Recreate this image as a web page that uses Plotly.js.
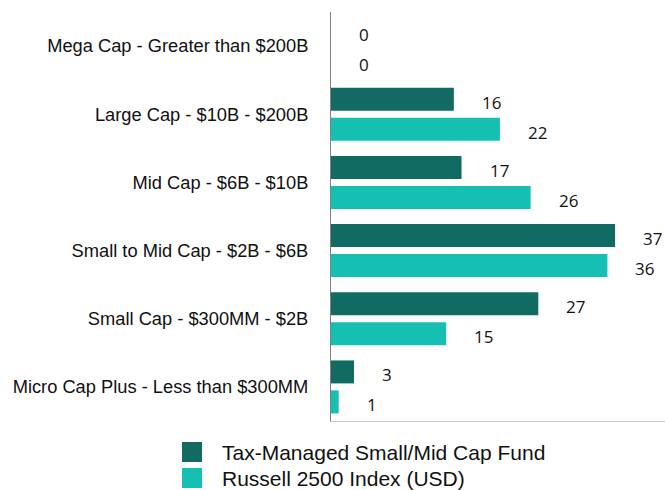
<!DOCTYPE html>
<html>
<head>
<meta charset="utf-8">
<script src="https://cdn.plot.ly/plotly-3.0.1.min.js"></script>
<style>html,body{margin:0;padding:0;background:#fff;}#chart{width:665px;height:490px;}</style>
</head>
<body>
<div id="chart"></div>
<script>
var categories = [
  "Mega Cap - Greater than $200B",
  "Large Cap - $10B - $200B",
  "Mid Cap - $6B - $10B",
  "Small to Mid Cap - $2B - $6B",
  "Small Cap - $300MM - $2B",
  "Micro Cap Plus - Less than $300MM"
];
var fundValues = [0, 16, 17, 37, 27, 3];
var indexValues = [0, 22, 26, 36, 15, 1];
var seriesNames = ["Tax-Managed Small/Mid Cap Fund", "Russell 2500 Index (USD)"];
var colors = ["#116B62", "#15BFB2"];

var traces = [
  {type: "bar", orientation: "h", name: seriesNames[0], x: fundValues, y: categories,
   marker: {color: colors[0]}, showlegend: false, hoverinfo: "x"},
  {type: "bar", orientation: "h", name: seriesNames[1], x: indexValues, y: categories,
   marker: {color: colors[1]}, showlegend: false, hoverinfo: "x"}
];

// plot-area geometry used to place the legend in paper coordinates
var M = {l: 331, r: 0, t: 12, b: 69};
var W = 665, H = 490;
var pw = W - M.l - M.r, ph = H - M.t - M.b;
function px2x(px) { return (px - M.l) / pw; }
function py2y(py) { return (H - M.b - py) / ph; }

var annotations = [];
var labelFont = {family: "Open Sans, Noto Sans, sans-serif", size: 17, color: "#111"};
categories.forEach(function (c, i) {
  annotations.push({x: fundValues[i], y: c, text: String(fundValues[i]), showarrow: false,
    xanchor: "left", yanchor: "middle", xshift: 26, yshift: 12, font: labelFont});
  annotations.push({x: indexValues[i], y: c, text: String(indexValues[i]), showarrow: false,
    xanchor: "left", yanchor: "middle", xshift: 26, yshift: -18, font: labelFont});
});

var shapes = [];
var legendFont = {family: "Arial, Liberation Sans, sans-serif", size: 21, color: "#111"};
seriesNames.forEach(function (n, i) {
  var top = 442 + i * 26;
  shapes.push({type: "rect", xref: "paper", yref: "paper",
    x0: px2x(182), x1: px2x(202), y0: py2y(top + 20), y1: py2y(top),
    fillcolor: colors[i], line: {width: 0}});
  annotations.push({xref: "paper", yref: "paper", x: px2x(220), y: py2y(top + 10),
    text: n, showarrow: false, xanchor: "left", yanchor: "middle", font: legendFont});
});

var layout = {
  width: W, height: H,
  margin: {l: M.l, r: M.r, t: M.t, b: M.b, autoexpand: false},
  paper_bgcolor: "#fff", plot_bgcolor: "#fff",
  barmode: "group", bargap: 0.12, bargroupgap: 0.233,
  showlegend: false,
  xaxis: {range: [0, 43.5], showgrid: false, zeroline: false, showticklabels: false,
    ticks: "", showline: true, linecolor: "#c8c8c8", linewidth: 1, fixedrange: true},
  yaxis: {type: "category", autorange: "reversed", showgrid: false, zeroline: false,
    showline: true, linecolor: "#808080", linewidth: 1, ticks: "", ticklabelstandoff: 18,
    tickfont: {family: "Arial, Liberation Sans, sans-serif", size: 18.3, color: "#111"},
    fixedrange: true},
  shapes: shapes,
  annotations: annotations
};

Plotly.newPlot("chart", traces, layout, {displayModeBar: false, staticPlot: true});
</script>
</body>
</html>
